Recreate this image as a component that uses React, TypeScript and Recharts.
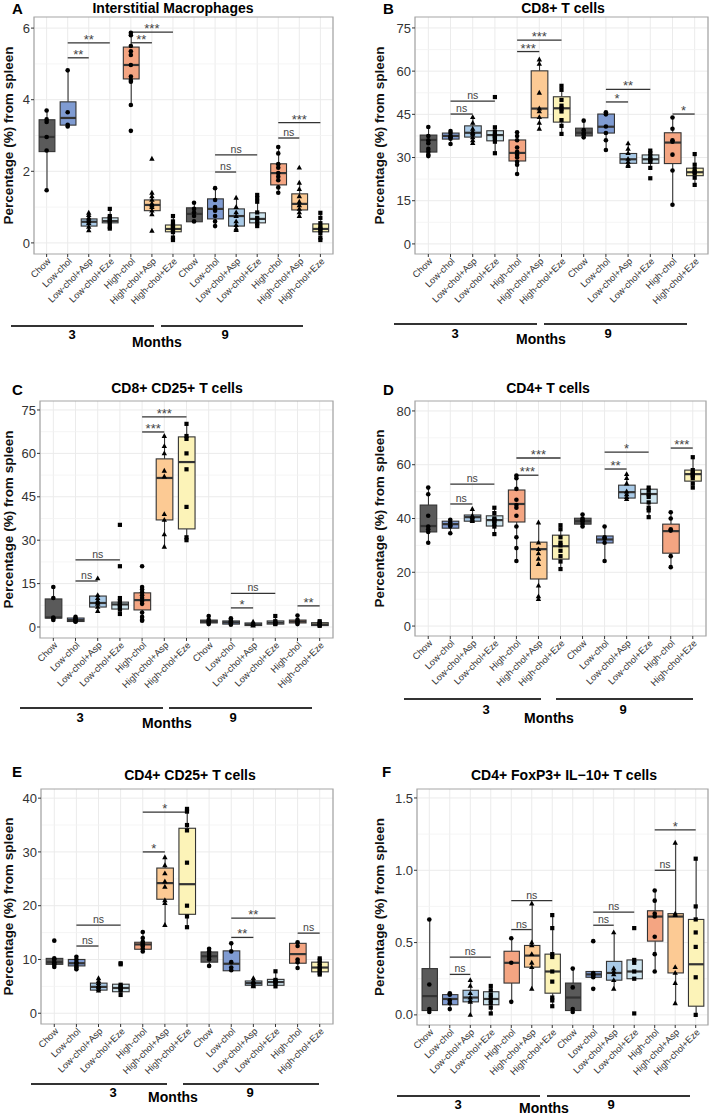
import React from "react";
import {
  ComposedChart,
  Bar,
  Scatter,
  XAxis,
  YAxis,
  CartesianGrid,
  ReferenceLine,
  ReferenceArea,
} from "recharts";

// ---- categories ----
const G3 = ["Chow", "Low-chol", "Low-chol+Asp", "Low-chol+Eze", "High-chol", "High-chol+Asp", "High-chol+Eze"];
const G9 = ["Chow", "Low-chol", "Low-chol+Asp", "Low-chol+Eze", "High-chol", "High-chol+Asp", "High-chol+Eze"];
const G9_NO_HCA = ["Chow", "Low-chol", "Low-chol+Asp", "Low-chol+Eze", "High-chol", "High-chol+Eze"];

const CATS_14 = [...G3, ...G9];
const CATS_13 = [...G3, ...G9_NO_HCA];

// ---- A: Interstitial Macrophages  box = [lo, q1, median, q3, hi] ----
const A_BOX = [
  [1.47, 2.55, 2.96, 3.44, 3.69],
  [3.25, 3.29, 3.49, 3.94, 4.82],
  [0.34, 0.47, 0.59, 0.67, 0.84],
  [0.39, 0.56, 0.61, 0.7, 0.95],
  [3.83, 4.58, 4.97, 5.47, 5.87],
  [0.78, 0.9, 1.06, 1.2, 1.4],
  [0.08, 0.31, 0.39, 0.5, 0.75],
  [0.59, 0.59, 0.81, 0.98, 1.12],
  [0.47, 0.67, 0.95, 1.23, 1.53],
  [0.36, 0.47, 0.75, 0.95, 1.26],
  [0.47, 0.56, 0.67, 0.84, 1.34],
  [1.4, 1.62, 1.95, 2.21, 2.68],
  [0.75, 0.92, 1.09, 1.37, 1.68],
  [0.08, 0.31, 0.39, 0.53, 0.84],
];
const A_PTS = [
  [3.7, 3.45, 3.38, 2.96, 2.58, 1.47],
  [4.82, 3.65, 3.3, 3.25],
  [0.84, 0.78, 0.7, 0.65, 0.6, 0.55, 0.45, 0.35],
  [0.95, 0.75, 0.7, 0.65, 0.6, 0.55, 0.45, 0.4],
  [5.87, 5.8, 5.5, 5.35, 5.25, 4.97, 4.65, 4.55, 4.5, 3.85, 3.13],
  [2.35, 1.4, 1.3, 1.2, 1.1, 1.05, 1.0, 0.9, 0.8, 0.34],
  [0.75, 0.6, 0.5, 0.45, 0.4, 0.35, 0.3, 0.15, 0.08],
  [1.12, 0.95, 0.85, 0.75, 0.6],
  [1.53, 1.2, 1.0, 0.9, 0.75, 0.6, 0.47],
  [1.26, 1.0, 0.85, 0.75, 0.6, 0.5, 0.4, 0.36],
  [1.34, 1.25, 1.15, 0.85, 0.7, 0.65, 0.55, 0.47],
  [2.68, 2.5, 2.2, 2.1, 1.95, 1.85, 1.75, 1.55, 1.4],
  [2.1, 1.68, 1.5, 1.3, 1.15, 1.05, 0.95, 0.85, 0.75],
  [0.84, 0.7, 0.55, 0.45, 0.4, 0.35, 0.28, 0.15, 0.08],
];
const A_SIG = [
  [2, 3, 5.17, "**"], [2, 4, 5.59, "**"], [5, 6, 5.59, "**"], [5, 7, 5.89, "***"],
  [9, 10, 1.98, "ns"], [9, 11, 2.46, "ns"], [12, 13, 2.93, "ns"], [12, 14, 3.36, "***"],
];
const A_TICKS = [0, 2, 4, 6];
const A_MINOR = [1, 3, 5];

// ---- B: CD8+ T cells ----
const B_BOX = [
  [30.2, 31.9, 36.1, 37.8, 40.6],
  [34.7, 36.4, 37.5, 38.5, 39.2],
  [35.0, 37.1, 38.6, 41.0, 44.2],
  [31.5, 35.8, 37.8, 39.3, 40.7],
  [24.3, 28.8, 31.6, 36.1, 38.8],
  [39.8, 43.8, 47.0, 60.1, 63.9],
  [38.2, 42.3, 47.1, 51.1, 54.9],
  [36.8, 37.5, 38.6, 40.2, 42.8],
  [32.6, 38.5, 40.7, 45.1, 45.7],
  [26.8, 28.0, 29.4, 31.4, 34.9],
  [26.4, 28.0, 29.4, 30.9, 32.4],
  [13.6, 27.9, 35.2, 38.6, 43.9],
  [20.5, 23.7, 24.9, 26.3, 31.2],
];
const B_PTS = [
  [40.6, 37.5, 36, 35, 33, 32, 31, 30.5],
  [39.2, 38.5, 37.5, 37, 36.5, 34.7],
  [44, 42, 40, 39, 38.5, 38, 37, 36, 35],
  [51, 40.5, 39, 38, 37.5, 37, 36.5, 35.5, 31.5],
  [38.8, 37.5, 36, 33.5, 32, 31, 30, 28.5, 27.5, 24.3],
  [64, 62.5, 52.5, 47, 46, 44, 42, 40],
  [54.9, 53.5, 50, 48, 47, 46, 43, 41, 38.2],
  [42.8, 39.5, 38.5, 38, 37],
  [45.7, 45, 40.8, 38.5, 36, 32.6],
  [34.9, 33, 31.5, 29.5, 28.5, 27.5, 27],
  [32.4, 31.5, 30.5, 29.5, 29, 28.5, 26.4, 22.8],
  [43.9, 40, 36, 35.5, 31, 25.5, 13.6],
  [31.2, 27.5, 26, 25, 24.5, 23, 20.5],
];
const B_SIG = [
  [2, 3, 45.1, "ns"], [2, 4, 49.6, "ns"], [5, 6, 66.8, "***"], [5, 7, 70.8, "***"],
  [9, 10, 49.3, "*"], [9, 11, 53.7, "**"], [12, 13, 45.1, "*"],
];
const BC_TICKS = [0, 15, 30, 45, 60, 75];
const BC_MINOR = [7.5, 22.5, 37.5, 52.5, 67.5];

// ---- C: CD8+ CD25+ T cells ----
const C_BOX = [
  [2.4, 3.1, 3.3, 9.7, 13.8],
  [1.7, 1.9, 2.4, 3.1, 3.5],
  [5.5, 6.9, 8.3, 10.7, 11.2],
  [4.5, 6.2, 7.8, 8.6, 10.0],
  [2.2, 5.9, 9.3, 11.8, 13.8],
  [27.7, 37.0, 51.5, 58.1, 66.0],
  [29.7, 33.9, 57.0, 65.7, 70.2],
  [0.7, 1.4, 1.9, 2.4, 3.8],
  [0.7, 1.0, 1.6, 2.1, 3.0],
  [0.1, 0.5, 0.9, 1.4, 1.8],
  [1.0, 1.0, 1.5, 2.1, 3.8],
  [1.0, 1.4, 1.9, 2.4, 4.0],
  [0.3, 0.5, 0.9, 1.5, 2.0],
];
const C_PTS = [
  [13.8, 10, 3.3, 3, 2.4],
  [3.5, 3, 2.5, 2.2, 2, 1.8],
  [16.8, 11, 10, 9, 8.5, 8, 7, 5.5],
  [35.3, 21, 10, 9, 8, 7.5, 7, 6, 4.5],
  [21, 13.8, 13, 12, 11, 10, 9, 8, 5, 3.5, 2.5, 2.2],
  [66, 62.5, 60, 54, 52, 39, 37, 32, 27.7],
  [70.2, 66, 65, 60, 54.5, 41.5, 31, 30],
  [3.8, 2.5, 2, 1.5, 1],
  [3, 2.4, 2, 1.5, 1.2, 0.8],
  [1.8, 1.2, 1.0, 0.8, 0.5],
  [3.8, 2, 1.5, 1.2, 1],
  [4, 2.5, 2, 1.5, 1],
  [2, 1.5, 1, 0.7, 0.4],
];
const C_SIG = [
  [2, 3, 15.9, "ns"], [2, 4, 23.2, "ns"], [5, 6, 67.4, "***"], [5, 7, 72.6, "***"],
  [9, 10, 6.6, "*"], [9, 11, 11.6, "ns"], [12, 13, 7.3, "**"],
];

// ---- D: CD4+ T cells ----
const D_BOX = [
  [30.9, 35.0, 37.2, 45.0, 51.7],
  [34.6, 36.4, 37.9, 39.0, 39.8],
  [39.0, 39.0, 40.5, 41.3, 43.9],
  [34.2, 37.2, 39.4, 41.0, 44.2],
  [24.2, 38.7, 45.4, 50.6, 56.1],
  [9.7, 17.5, 28.6, 31.2, 38.7],
  [21.2, 24.9, 29.7, 33.8, 37.9],
  [36.8, 37.9, 39.0, 40.1, 41.6],
  [24.2, 30.9, 32.2, 33.5, 37.2],
  [47.2, 47.6, 49.8, 52.4, 56.9],
  [40.5, 45.7, 49.1, 50.9, 51.7],
  [21.9, 27.1, 35.3, 37.9, 42.4],
  [51.3, 53.9, 56.5, 58.0, 62.8],
];
const D_PTS = [
  [51.5, 49, 41, 37, 36, 35, 31],
  [39.5, 38.5, 37.5, 37, 34.5],
  [43.5, 41, 40.5, 40, 39.5, 39],
  [44, 42, 40, 39.5, 39, 38, 37, 34.2],
  [56, 55, 51, 47, 45, 44, 41, 37, 33, 29, 24.2],
  [38.5, 31, 28.6, 27, 25, 23, 15, 11, 10],
  [37.5, 36, 33, 31, 30, 28, 26, 24, 21.2],
  [41.5, 40, 39.5, 39, 38, 37],
  [37, 33, 32.5, 31, 24.2],
  [56.5, 55, 53, 50, 49, 48, 47.2],
  [51.5, 50.5, 49, 48, 46, 44, 43, 40.5],
  [42.3, 40, 36, 35.5, 26, 21.9],
  [62.8, 58, 57, 56.5, 56, 55, 53, 51.5],
];
const D_SIG = [
  [2, 3, 45.4, "ns"], [2, 4, 52.8, "ns"], [5, 6, 56.1, "***"], [5, 7, 62.5, "***"],
  [9, 10, 58.4, "**"], [9, 11, 64.7, "*"], [12, 13, 66.2, "***"],
];
const D_TICKS = [0, 20, 40, 60, 80];
const D_MINOR = [10, 30, 50, 70];

// ---- E: CD4+ CD25+ T cells ----
const E_BOX = [
  [8.6, 9.1, 9.5, 10.2, 10.3],
  [7.8, 8.8, 9.3, 10.0, 10.6],
  [3.9, 4.3, 4.9, 5.6, 6.5],
  [3.3, 4.0, 4.7, 5.4, 5.6],
  [11.5, 11.9, 12.8, 13.2, 15.1],
  [16.4, 21.2, 24.2, 27.0, 29.0],
  [16.0, 18.4, 24.0, 34.4, 38.1],
  [8.8, 9.5, 10.6, 11.4, 12.0],
  [7.9, 7.9, 9.2, 11.6, 13.0],
  [5.0, 5.2, 5.6, 6.0, 6.5],
  [4.8, 5.2, 5.8, 6.3, 7.8],
  [8.4, 9.3, 11.0, 13.0, 13.2],
  [7.2, 7.7, 8.5, 9.5, 10.3],
];
const E_PTS = [
  [13.5, 10.2, 10, 9.5, 9.2, 9, 8.6],
  [10.5, 10, 9.5, 9.2, 8.8, 8.5, 8.2],
  [6.5, 6, 5.6, 5.2, 5, 4.8, 4.5, 4.2],
  [9.3, 9.1, 5.3, 5, 4.8, 4.5, 4.2, 3.4],
  [15.1, 14, 13.3, 13, 12.7, 12.5, 12, 11.5],
  [29, 27.5, 26, 24.5, 23.5, 21, 20.5, 16.4],
  [38, 37.5, 35, 34, 28, 20, 18, 16],
  [12, 11.5, 11, 10.5, 10, 8.8],
  [13, 11.5, 9.5, 8.5, 8],
  [6.5, 6, 5.8, 5.5, 5.2, 5],
  [7.8, 6.2, 6, 5.8, 5.5, 5],
  [13.2, 12.5, 10, 9.5, 8.4],
  [10.2, 9.8, 9.3, 8.8, 8.3, 8, 7.5, 7.2],
];
const E_SIG = [
  [2, 3, 12.5, "ns"], [2, 4, 16.4, "ns"], [5, 6, 30.0, "*"], [5, 7, 37.4, "*"],
  [9, 10, 14.1, "**"], [9, 11, 17.7, "**"], [12, 13, 14.9, "ns"],
];
const E_TICKS = [0, 10, 20, 30, 40];
const E_MINOR = [5, 15, 25, 35];

// ---- F: CD4+ FoxP3+ IL-10+ T cells ----
const F_BOX = [
  [0.01, 0.03, 0.13, 0.32, 0.66],
  [0.04, 0.07, 0.11, 0.14, 0.15],
  [0.0, 0.09, 0.12, 0.17, 0.24],
  [0.01, 0.07, 0.11, 0.16, 0.21],
  [0.09, 0.22, 0.36, 0.44, 0.53],
  [0.18, 0.33, 0.41, 0.48, 0.77],
  [0.06, 0.15, 0.3, 0.42, 0.69],
  [0.01, 0.03, 0.12, 0.22, 0.32],
  [0.26, 0.26, 0.28, 0.3, 0.3],
  [0.18, 0.24, 0.29, 0.37, 0.57],
  [0.25, 0.25, 0.3, 0.38, 0.38],
  [0.3, 0.51, 0.68, 0.72, 0.86],
  [0.08, 0.29, 0.68, 0.7, 1.19],
  [0.0, 0.06, 0.35, 0.66, 1.08],
];
const F_PTS = [
  [0.66, 0.21, 0.04, 0.02],
  [0.15, 0.14, 0.1, 0.08, 0.04],
  [0.24, 0.2, 0.15, 0.12, 0.1, 0.09, 0.0],
  [0.2, 0.17, 0.14, 0.12, 0.1, 0.08, 0.05, 0.01],
  [0.53, 0.36, 0.09],
  [0.77, 0.5, 0.48, 0.42, 0.36, 0.33, 0.18],
  [0.69, 0.6, 0.42, 0.4, 0.3, 0.23, 0.12, 0.1, 0.06],
  [0.32, 0.19, 0.04, 0.02],
  [0.51, 0.29, 0.28, 0.27, 0.26, 0.18],
  [0.57, 0.32, 0.3, 0.28, 0.24, 0.18],
  [0.6, 0.38, 0.36, 0.3, 0.25, 0.01],
  [0.86, 0.79, 0.7, 0.68, 0.54, 0.42, 0.3],
  [1.19, 0.7, 0.69, 0.33, 0.29, 0.22, 0.08],
  [1.08, 0.75, 0.66, 0.57, 0.47, 0.26, 0.0],
];
const F_SIG = [
  [2, 3, 0.28, "ns"], [2, 4, 0.4, "ns"], [5, 6, 0.59, "ns"], [5, 7, 0.79, "ns"],
  [9, 10, 0.62, "ns"], [9, 11, 0.71, "ns"], [12, 13, 1.0, "ns"], [12, 14, 1.28, "*"],
];
const F_TICKS = [0, 0.5, 1, 1.5];
const F_MINOR = [0.25, 0.75, 1.25];

// ---- styling ----
const FILL: Record<string, string> = {
  Chow: "#5a5a5a",
  "Low-chol": "#7f9bd2",
  "Low-chol+Asp": "#a8c9e6",
  "Low-chol+Eze": "#cfe6f0",
  "High-chol": "#f4a582",
  "High-chol+Asp": "#fcca94",
  "High-chol+Eze": "#fcf3b8",
};
const FONT = "'Liberation Sans', Arial, Helvetica, sans-serif";

const BoxShape = (props: any) => {
  const { x, y, width, height, payload } = props;
  const [lo, q1, med, q3, hi] = payload.box;
  const top = Math.min(y, y + height);
  const bot = Math.max(y, y + height);
  const k = (bot - top) / (hi - lo);
  const Y = (v: number) => bot - (v - lo) * k;
  const cx = x + width / 2;
  return (
    <g>
      <line x1={cx} x2={cx} y1={Y(hi)} y2={Y(q3)} stroke="#333" strokeWidth={1.1} />
      <line x1={cx} x2={cx} y1={Y(q1)} y2={Y(lo)} stroke="#333" strokeWidth={1.1} />
      <rect x={x} y={Y(q3)} width={width} height={Math.max(Y(q1) - Y(q3), 0.5)} fill={FILL[payload.name]} stroke="#333" strokeWidth={1.1} />
      <line x1={x} x2={x + width} y1={Y(med)} y2={Y(med)} stroke="#333" strokeWidth={2.2} />
    </g>
  );
};

const Dot = (p: any) => <circle cx={p.cx} cy={p.cy} r={2.3} fill="#000" />;
const Tri = (p: any) => (
  <polygon points={`${p.cx},${p.cy - 3} ${p.cx - 2.7},${p.cy + 1.9} ${p.cx + 2.7},${p.cy + 1.9}`} fill="#000" />
);
const Sq = (p: any) => <rect x={p.cx - 2.1} y={p.cy - 2.1} width={4.2} height={4.2} fill="#000" />;

const XTick = (props: any) => {
  const { x, y, payload, cats } = props;
  return (
    <g transform={`translate(${x},${y})`}>
      <text x={0} y={0} dy="0.72em" transform="rotate(-45)" textAnchor="end" fontSize={9.3} fill="#333">
        {cats[payload.value - 1]}
      </text>
    </g>
  );
};

function BoxPanel({ cats, box, pts, sig, ticks, minor, domain, fr, fmt }: any) {
  const n = cats.length;
  const rows = cats.map((name: string, i: number) => ({ x: i + 1, name, box: box[i], lo: box[i][0], hi: box[i][4] }));
  const circles: any[] = [];
  const tris: any[] = [];
  const squares: any[] = [];
  cats.forEach((name: string, i: number) =>
    pts[i].forEach((v: number) => {
      const p = { x: i + 1, v };
      if (name.includes("+Asp")) tris.push(p);
      else if (name.includes("+Eze")) squares.push(p);
      else circles.push(p);
    })
  );
  const step = (fr.r - fr.l) / (n + 0.2);
  const mt = 6;
  const xh = 64;
  const width = fr.r - fr.left + 1;
  const height = fr.b - fr.t + mt + xh;
  return (
    <div style={{ position: "absolute", left: fr.left, top: fr.t - mt }}>
      <ComposedChart width={width} height={height} data={rows} margin={{ top: mt, right: 1, bottom: 0, left: 0 }}>
        <CartesianGrid stroke="#ebebeb" strokeWidth={1} horizontalValues={ticks} />
        <CartesianGrid stroke="#f2f2f2" strokeWidth={0.8} vertical={false} horizontalValues={minor} />
        <XAxis
          type="number"
          dataKey="x"
          domain={[0.4, n + 0.6]}
          ticks={cats.map((_: string, i: number) => i + 1)}
          interval={0}
          allowDataOverflow
          height={xh}
          tickSize={3}
          tickMargin={0}
          axisLine={false}
          tickLine={{ stroke: "#333" }}
          tick={(p: any) => <XTick {...p} cats={cats} />}
        />
        <YAxis
          type="number"
          domain={domain}
          ticks={ticks}
          allowDataOverflow
          width={fr.l - fr.left}
          tickSize={3}
          tickMargin={1}
          axisLine={false}
          tickLine={{ stroke: "#333" }}
          tick={{ fontSize: 13, fill: "#333" }}
          tickFormatter={fmt}
          label={{
            value: "Percentage (%) from spleen",
            angle: -90,
            position: "insideLeft",
            offset: fr.ylab - fr.left,
            style: { textAnchor: "middle", fontWeight: "bold", fontSize: 13.5, fill: "#111" },
          }}
        />
        <Bar dataKey={(d: any) => [d.lo, d.hi]} barSize={step * 0.75} shape={BoxShape} isAnimationActive={false} />
        <Scatter data={circles} dataKey="v" shape={Dot} isAnimationActive={false} />
        <Scatter data={tris} dataKey="v" shape={Tri} isAnimationActive={false} />
        <Scatter data={squares} dataKey="v" shape={Sq} isAnimationActive={false} />
        {sig.map((s: any, i: number) => {
          const stars = s[3] !== "ns";
          return (
            <ReferenceLine
              key={i}
              segment={[{ x: s[0], y: s[2] }, { x: s[1], y: s[2] }]}
              stroke="#333"
              strokeWidth={1.3}
              ifOverflow="visible"
              label={{
                value: s[3],
                position: "top",
                offset: stars ? -1 : 2,
                fontSize: stars ? 13 : 10.5,
                fill: "#444",
              }}
            />
          );
        })}
        <ReferenceArea
          x1={0.4}
          x2={n + 0.6}
          y1={domain[0]}
          y2={domain[1]}
          fill="none"
          fillOpacity={0}
          stroke="#a6a6a6"
          strokeWidth={1.2}
          ifOverflow="visible"
        />
      </ComposedChart>
    </div>
  );
}

const PANELS = [
  { key: "A", title: "Interstitial Macrophages", cats: CATS_14, box: A_BOX, pts: A_PTS, sig: A_SIG, ticks: A_TICKS, minor: A_MINOR, domain: [-0.31, 6.31] },
  { key: "B", title: "CD8+ T cells", cats: CATS_13, box: B_BOX, pts: B_PTS, sig: B_SIG, ticks: BC_TICKS, minor: BC_MINOR, domain: [-3.5, 78.8] },
  { key: "C", title: "CD8+ CD25+ T cells", cats: CATS_13, box: C_BOX, pts: C_PTS, sig: C_SIG, ticks: BC_TICKS, minor: BC_MINOR, domain: [-3.8, 78.1] },
  { key: "D", title: "CD4+ T cells", cats: CATS_13, box: D_BOX, pts: D_PTS, sig: D_SIG, ticks: D_TICKS, minor: D_MINOR, domain: [-3.7, 83.7] },
  { key: "E", title: "CD4+ CD25+ T cells", cats: CATS_13, box: E_BOX, pts: E_PTS, sig: E_SIG, ticks: E_TICKS, minor: E_MINOR, domain: [-2.0, 41.7] },
  { key: "F", title: "CD4+ FoxP3+ IL\u221210+ T cells", cats: CATS_14, box: F_BOX, pts: F_PTS, sig: F_SIG, ticks: F_TICKS, minor: F_MINOR, domain: [-0.07, 1.562], fmt: (v: number) => v.toFixed(1) },
];

// layout: plot frames, headers and footers (pixels)
const LAYOUT: Record<string, any> = {
  A: { fr: { left: 0, l: 34, t: 17, r: 333, b: 254, ylab: 8 }, letter: [12, 14], head: [173, 13], foot: { y: 326, l3: [11, 154], l9: [161, 303], t3: 72, t9: 225, tm: 157, by: 339, bm: 347 } },
  B: { fr: { left: 354, l: 415, t: 17, r: 708, b: 254, ylab: 379 }, letter: [383, 14], head: [563, 13], foot: { y: 324, l3: [394, 537], l9: [544, 687], t3: 455, t9: 608, tm: 541, by: 338, bm: 344 } },
  C: { fr: { left: 0, l: 40, t: 401, r: 333, b: 638, ylab: 8 }, letter: [12, 395], head: [177, 393], foot: { y: 708, l3: [20, 163], l9: [169, 312], t3: 80, t9: 233, tm: 167, by: 722, bm: 728 } },
  D: { fr: { left: 354, l: 415, t: 401, r: 706, b: 636, ylab: 379 }, letter: [383, 395], head: [548, 393], foot: { y: 699, l3: [404, 541], l9: [556, 693], t3: 486, t9: 623, tm: 549, by: 714, bm: 723 } },
  E: { fr: { left: 0, l: 41, t: 789, r: 333, b: 1024, ylab: 8 }, letter: [12, 777], head: [190, 780], foot: { y: 1084, l3: [31, 167], l9: [183, 319], t3: 113, t9: 250, tm: 173, by: 1097, bm: 1102 } },
  F: { fr: { left: 354, l: 417, t: 789, r: 708, b: 1025, ylab: 379 }, letter: [382, 777], head: [564, 780], foot: { y: 1096, l3: [397, 540], l9: [547, 690], t3: 458, t9: 611, tm: 544, by: 1109, bm: 1113 } },
};

export default function App() {
  return (
    <div style={{ position: "absolute", left: 0, top: 0, width: 709, height: 1116, background: "#fff", fontFamily: FONT, overflow: "hidden" }}>
      {PANELS.map((p) => (
        <BoxPanel key={p.key} {...p} fr={LAYOUT[p.key].fr} />
      ))}
      <svg width={709} height={1116} style={{ position: "absolute", left: 0, top: 0, pointerEvents: "none" }}>
        {PANELS.map((p) => {
          const L = LAYOUT[p.key];
          const f = L.foot;
          return (
            <g key={p.key} fontFamily={FONT} fill="#000" fontWeight="bold">
              <text x={L.letter[0]} y={L.letter[1]} fontSize={15}>{p.key}</text>
              <text x={L.head[0]} y={L.head[1]} fontSize={14} textAnchor="middle">{p.title}</text>
              <line x1={f.l3[0]} x2={f.l3[1]} y1={f.y} y2={f.y} stroke="#333" strokeWidth={1.8} />
              <line x1={f.l9[0]} x2={f.l9[1]} y1={f.y} y2={f.y} stroke="#333" strokeWidth={1.8} />
              <text x={f.t3} y={f.by} fontSize={13} textAnchor="middle">3</text>
              <text x={f.t9} y={f.by} fontSize={13} textAnchor="middle">9</text>
              <text x={f.tm} y={f.bm} fontSize={14} textAnchor="middle">Months</text>
            </g>
          );
        })}
      </svg>
    </div>
  );
}
